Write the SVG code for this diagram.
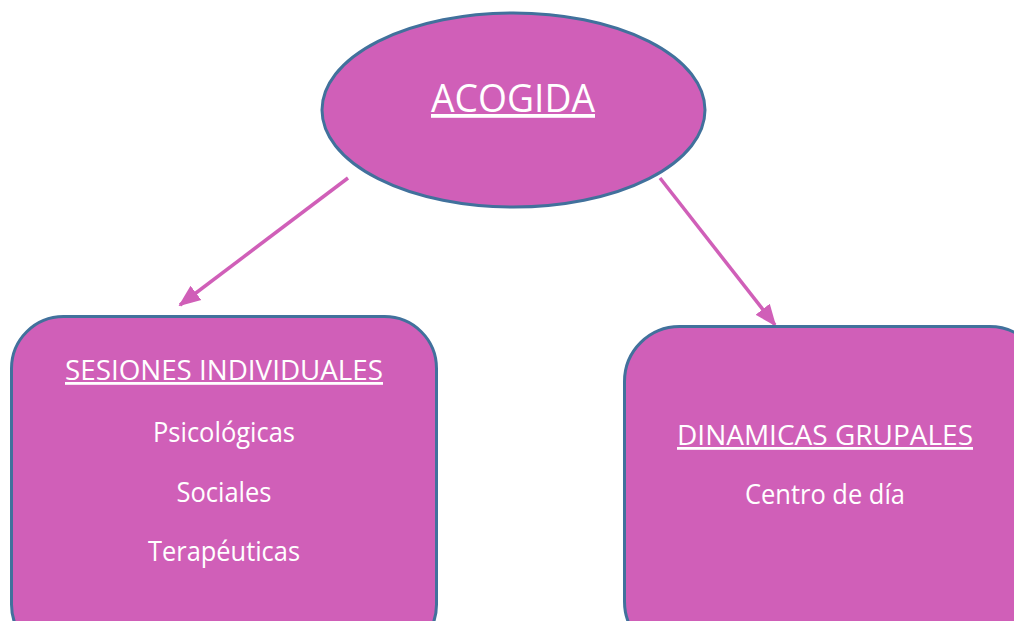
<svg xmlns="http://www.w3.org/2000/svg" width="1014" height="621" viewBox="0 0 1014 621">
<style>
.node{fill:#D05FB8;stroke:#41719C;stroke-width:3}
.t{font-family:"Open Sans","Liberation Sans",sans-serif;fill:#fff;text-anchor:middle}
.u{text-decoration:underline}
.conn{stroke:#D05FB8;stroke-width:3.5;fill:none}
</style>
<defs>
<marker id="ah" markerUnits="userSpaceOnUse" markerWidth="22" markerHeight="22" viewBox="0 0 22 22" refX="20" refY="11" orient="auto">
<path d="M0,2 L22,11 L0,20 Z" fill="#D05FB8"/>
</marker>
</defs>
<rect width="1014" height="621" fill="#fff"/>
<g id="connectors">
<line class="conn" x1="348" y1="178" x2="180" y2="305" marker-end="url(#ah)"/>
<line class="conn" x1="660" y1="178" x2="775" y2="325" marker-end="url(#ah)"/>
</g>
<g id="acogida">
<ellipse class="node" cx="513.5" cy="110" rx="191.5" ry="97"/>
<text class="t u" x="513" y="112" font-size="38" textLength="164" lengthAdjust="spacingAndGlyphs">ACOGIDA</text>
</g>
<g id="sesiones">
<rect class="node" x="11.5" y="316.5" width="425" height="340" rx="52" ry="52"/>
<text class="t u" x="224" y="380" font-size="28" textLength="318" lengthAdjust="spacingAndGlyphs">SESIONES INDIVIDUALES</text>
<text class="t" x="224" y="442" font-size="26.5" textLength="142" lengthAdjust="spacingAndGlyphs">Psicológicas</text>
<text class="t" x="224" y="502" font-size="26.5" textLength="95" lengthAdjust="spacingAndGlyphs">Sociales</text>
<text class="t" x="224" y="561" font-size="26.5" textLength="152" lengthAdjust="spacingAndGlyphs">Terapéuticas</text>
</g>
<g id="dinamicas">
<rect class="node" x="624.5" y="326.5" width="420" height="330" rx="55" ry="55"/>
<text class="t u" x="825" y="445" font-size="28" textLength="296" lengthAdjust="spacingAndGlyphs">DINAMICAS GRUPALES</text>
<text class="t" x="825" y="504" font-size="26.5" textLength="160" lengthAdjust="spacingAndGlyphs">Centro de día</text>
</g>
</svg>
